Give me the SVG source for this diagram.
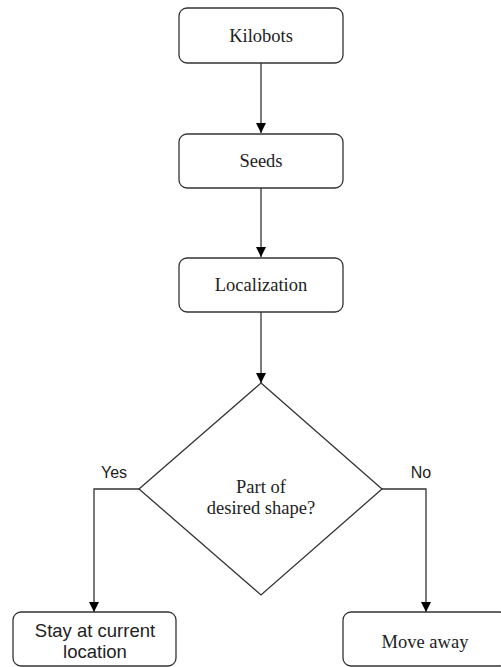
<svg xmlns="http://www.w3.org/2000/svg" width="501" height="667" viewBox="0 0 501 667">
<defs>
<marker id="arr" viewBox="0 0 10 10" refX="10" refY="5" markerWidth="10" markerHeight="10" markerUnits="userSpaceOnUse" orient="auto">
<path d="M0,0 L10,5 L0,10 Z" fill="#000"/>
</marker>
<style>
.box{fill:#fff;stroke:#333;stroke-width:1.3}
.serif{font-family:"Liberation Serif","Times New Roman",serif;font-size:18.5px;fill:#222;text-anchor:middle}
.sans{font-family:"Liberation Sans",Arial,sans-serif;font-size:18.5px;fill:#222;text-anchor:middle}
.lbl{font-family:"Liberation Sans",Arial,sans-serif;font-size:16px;fill:#222;text-anchor:middle}
.edge{fill:none;stroke:#333;stroke-width:1.3;marker-end:url(#arr)}
</style>
</defs>
<rect width="501" height="667" fill="#fff"/>
<g id="connectors">
<path class="edge" d="M261,63 V133"/>
<path class="edge" d="M261,188 V257"/>
<path class="edge" d="M261,312 V383"/>
<path class="edge" d="M139,489 H94 V612"/>
<path class="edge" d="M382,489 H426 V612"/>
<text class="lbl" x="114" y="478">Yes</text>
<text class="lbl" x="421" y="478">No</text>
</g>
<g id="kilobots">
<rect class="box" x="179" y="8" width="164" height="55" rx="8"/>
<text class="serif" x="261" y="42">Kilobots</text>
</g>
<g id="seeds">
<rect class="box" x="179" y="134" width="164" height="54" rx="8"/>
<text class="serif" x="261" y="167">Seeds</text>
</g>
<g id="localization">
<rect class="box" x="179" y="258" width="164" height="54" rx="8"/>
<text class="serif" x="261" y="291">Localization</text>
</g>
<g id="decision">
<polygon class="box" points="261,383 382,489 261,595 139,489"/>
<text class="serif" x="261" y="493">Part of</text>
<text class="serif" x="261" y="514">desired shape?</text>
</g>
<g id="stay">
<rect class="box" x="13" y="612" width="163" height="54" rx="8"/>
<text class="sans" x="95" y="637">Stay at current</text>
<text class="sans" x="95" y="658">location</text>
</g>
<g id="move">
<rect class="box" x="343" y="612" width="164" height="54" rx="8"/>
<text class="serif" x="425" y="648">Move away</text>
</g>
</svg>
